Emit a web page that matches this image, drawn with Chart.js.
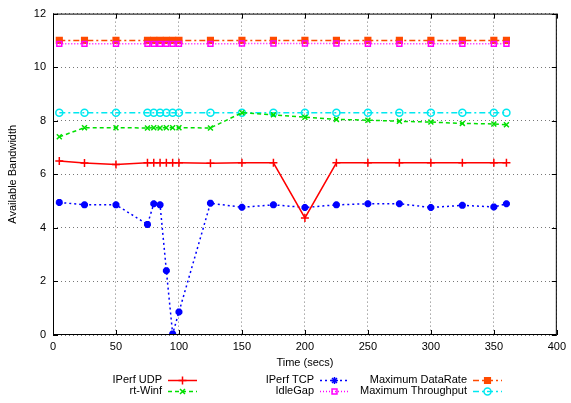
<!DOCTYPE html>
<html>
<head>
<meta charset="utf-8">
<script src="https://cdn.jsdelivr.net/npm/chart.js@4"></script>
<style>
  body { margin: 0; background: #fff; }
  #wrap { width: 571px; height: 403px; }
</style>
</head>
<body>
<div id="wrap"><canvas id="bw" width="571" height="403"></canvas></div>
<script>
// Time (secs)
const times = [5, 25, 50, 75, 80, 85, 90, 95, 100, 125, 150, 175, 200, 225, 250, 275, 300, 325, 350, 360];

const iperfUdp = [6.5, 6.42, 6.37, 6.43, 6.43, 6.43, 6.43, 6.43, 6.43, 6.41, 6.43, 6.43, 4.37, 6.43, 6.43, 6.43, 6.43, 6.43, 6.43, 6.43];
const rtWinf = [7.4, 7.74, 7.74, 7.73, 7.74, 7.73, 7.74, 7.74, 7.74, 7.73, 8.3, 8.22, 8.13, 8.05, 8.02, 7.98, 7.95, 7.9, 7.88, 7.85];
const iperfTcp = [4.95, 4.86, 4.86, 4.13, 4.9, 4.86, 2.4, 0.04, 0.86, 4.92, 4.77, 4.86, 4.76, 4.86, 4.9, 4.9, 4.76, 4.84, 4.78, 4.9];
const idleGap = [10.87, 10.87, 10.87, 10.87, 10.87, 10.87, 10.87, 10.87, 10.87, 10.87, 10.88, 10.88, 10.88, 10.88, 10.87, 10.87, 10.87, 10.87, 10.87, 10.87];
const maxDataRate = [11, 11, 11, 11, 11, 11, 11, 11, 11, 11, 11, 11, 11, 11, 11, 11, 11, 11, 11, 11];
const maxThroughput = [8.3, 8.3, 8.3, 8.3, 8.3, 8.3, 8.3, 8.3, 8.3, 8.3, 8.3, 8.3, 8.3, 8.3, 8.3, 8.3, 8.3, 8.3, 8.3, 8.3];

const xTicks = [0, 50, 100, 150, 200, 250, 300, 350, 400];
const yTicks = [0, 2, 4, 6, 8, 10, 12];

const FONT = "'Liberation Sans', Arial, sans-serif";
const pts = vals => vals.map((v, i) => ({ x: times[i], y: v }));

const series = [
  { label: 'IPerf UDP', data: iperfUdp, color: '#ff0000', dash: [], style: 'cross', fill: false, r: 4, bw: 1.5 },
  { label: 'rt-Winf', data: rtWinf, color: '#00e000', dash: [4, 3], style: 'crossRot', fill: false, r: 3.5, bw: 1.5 },
  { label: 'IPerf TCP', data: iperfTcp, color: '#0000ff', dash: [2, 3], style: 'star', fill: true, r: 3.5, bw: 2.5 },
  { label: 'IdleGap', data: idleGap, color: '#ff00ff', dash: [1, 2], style: 'rect', fill: false, r: 3.5, bw: 1.5 },
  { label: 'Maximum DataRate', data: maxDataRate, color: '#ff4a00', dash: [6, 3, 2, 3], style: 'rect', fill: true, r: 4, bw: 1.5 },
  { label: 'Maximum Throughput', data: maxThroughput, color: '#00e8f0', dash: [6, 3, 2, 3], style: 'circle', fill: false, r: 3.5, bw: 1.5 }
];

// legend positions: [text right edge, line start, y]
const legendPos = [
  [162, 168, 380], [162, 168, 391],
  [314, 320, 380], [314, 320, 391],
  [467, 473, 380], [467, 473, 391]
];

const frameAndLegend = {
  id: 'frameAndLegend',
  afterDraw(chart) {
    const ctx = chart.ctx;
    const a = chart.chartArea;
    ctx.save();
    ctx.strokeStyle = '#000';
    ctx.lineWidth = 1;
    ctx.setLineDash([]);
    ctx.strokeRect(a.left + 0.5, a.top + 0.5, a.right - a.left - 1, a.bottom - a.top - 1);
    // inner ticks
    const xs = chart.scales.x, ys = chart.scales.y;
    ctx.beginPath();
    xTicks.forEach(t => {
      const px = Math.round(xs.getPixelForValue(t)) + 0.5;
      ctx.moveTo(px, a.bottom); ctx.lineTo(px, a.bottom - 5);
      ctx.moveTo(px, a.top); ctx.lineTo(px, a.top + 5);
    });
    yTicks.forEach(t => {
      const py = Math.round(ys.getPixelForValue(t)) + 0.5;
      ctx.moveTo(a.left, py); ctx.lineTo(a.left + 5, py);
      ctx.moveTo(a.right, py); ctx.lineTo(a.right - 5, py);
    });
    ctx.stroke();

    // x axis title
    ctx.font = '11px ' + FONT;
    ctx.fillStyle = '#000';
    ctx.textAlign = 'center';
    ctx.textBaseline = 'middle';
    ctx.fillText('Time (secs)', (a.left + a.right) / 2, 363);

    // legend
    ctx.textAlign = 'right';
    chart.data.datasets.forEach((ds, i) => {
      const [tx, lx, ly] = legendPos[i];
      ctx.fillStyle = '#000';
      ctx.fillText(ds.label, tx, ly);
      ctx.strokeStyle = ds.borderColor;
      ctx.lineWidth = 1.5;
      ctx.setLineDash(ds.borderDash);
      ctx.beginPath();
      ctx.moveTo(lx, ly + 0.5); ctx.lineTo(lx + 29, ly + 0.5);
      ctx.stroke();
      ctx.setLineDash([]);
      ctx.fillStyle = ds.pointBackgroundColor;
      ctx.strokeStyle = ds.pointBorderColor;
      Chart.helpers.drawPoint(ctx, {
        pointStyle: ds.pointStyle,
        radius: ds.pointRadius,
        borderWidth: ds.pointBorderWidth,
        rotation: 0
      }, lx + 14.5, ly + 0.5);
    });
    ctx.restore();
  }
};

new Chart(document.getElementById('bw'), {
  type: 'line',
  data: {
    datasets: series.map(s => ({
      label: s.label,
      data: pts(s.data),
      borderColor: s.color,
      borderWidth: 1.5,
      borderDash: s.dash,
      pointStyle: s.style,
      pointRadius: s.r,
      pointBorderColor: s.color,
      pointBackgroundColor: s.fill ? s.color : 'rgba(0,0,0,0)',
      pointBorderWidth: s.bw,
      tension: 0,
      fill: false
    }))
  },
  options: {
    responsive: false,
    animation: false,
    layout: { padding: { top: 12, right: 13, left: 0, bottom: 50 } },
    plugins: {
      legend: { display: false },
      tooltip: { enabled: false }
    },
    scales: {
      x: {
        type: 'linear',
        min: 0,
        max: 400,
        afterFit: s => { s.height = 18; },
        afterBuildTicks: s => { s.ticks = xTicks.map(v => ({ value: v })); },
        grid: { color: '#777', drawTicks: false },
        border: { display: false, dash: [1, 3] },
        ticks: { color: '#000', font: { family: FONT, size: 11 }, padding: 5, maxRotation: 0 },
      },
      y: {
        min: 0,
        max: 12,
        afterFit: s => { s.width = 53; },
        afterBuildTicks: s => { s.ticks = yTicks.map(v => ({ value: v })); },
        grid: { color: '#777', drawTicks: false },
        border: { display: false, dash: [1, 3] },
        ticks: { color: '#000', font: { family: FONT, size: 11 }, padding: 7 },
        title: { display: true, text: 'Available Bandwidth', color: '#000', font: { family: FONT, size: 11 }, padding: { top: 6, bottom: 0 } }
      }
    }
  },
  plugins: [frameAndLegend]
});
</script>
</body>
</html>
